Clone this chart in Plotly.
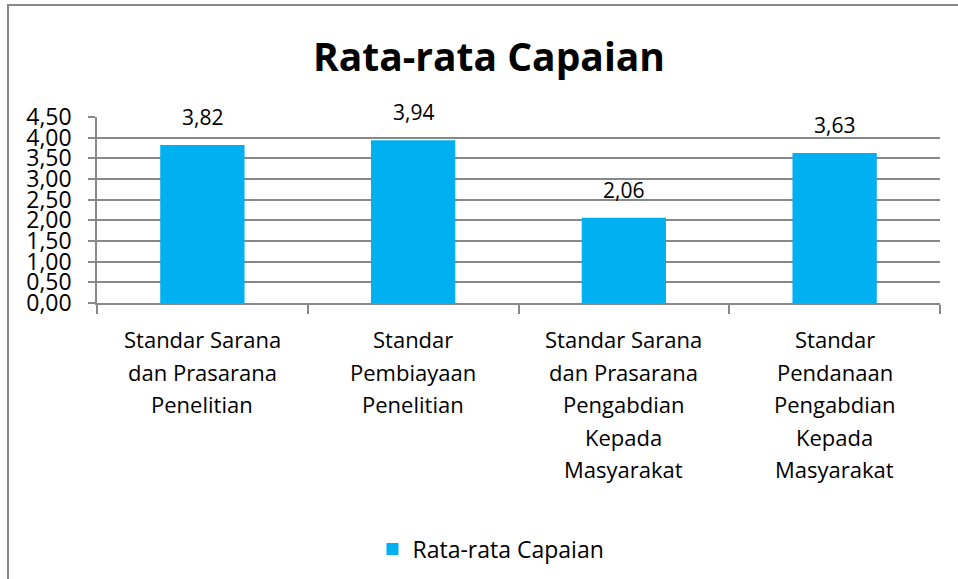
import plotly.graph_objects as go

categories = [
    "Standar Sarana<br>dan Prasarana<br>Penelitian",
    "Standar<br>Pembiayaan<br>Penelitian",
    "Standar Sarana<br>dan Prasarana<br>Pengabdian<br>Kepada<br>Masyarakat",
    "Standar<br>Pendanaan<br>Pengabdian<br>Kepada<br>Masyarakat",
]
values = [3.82, 3.94, 2.06, 3.63]
value_labels = ["3,82", "3,94", "2,06", "3,63"]
tick_vals = [0, 0.5, 1, 1.5, 2, 2.5, 3, 3.5, 4, 4.5]
tick_text = ["0,00", "0,50", "1,00", "1,50", "2,00", "2,50", "3,00", "3,50", "4,00", "4,50"]
series_name = "Rata-rata Capaian"

FONT = "Open Sans"
W, H = 958, 579
L, R, T, B = 97, 940, 117, 303
pw, ph = R - L, B - T

fig = go.Figure()
fig.add_trace(go.Bar(
    x=list(range(len(categories))), y=values, name=series_name,
    marker=dict(color="#00B0F0", line=dict(width=0)),
    showlegend=True,
))

annotations = []
for i, (v, t) in enumerate(zip(values, value_labels)):
    annotations.append(dict(x=i, y=v, text=t, showarrow=False, xref="x", yref="y",
                            yanchor="bottom", yshift=12,
                            font=dict(family=FONT, size=21, color="#000")))
for i, c in enumerate(categories):
    for j, line in enumerate(c.split("<br>")):
        annotations.append(dict(x=i, y=0, text=line, showarrow=False, xref="x", yref="paper",
                                yanchor="middle", yshift=-(36 + j * 32.6),
                                font=dict(family=FONT, size=22, color="#000")))

fig.update_layout(
    width=W, height=H,
    margin=dict(l=L, r=W - R, t=T, b=H - B, autoexpand=False),
    paper_bgcolor="white", plot_bgcolor="white",
    bargap=0.6,
    title=dict(text="<b>Rata-rata Capaian</b>", x=489 / W, xanchor="center",
               y=1 - 57 / H, yanchor="middle",
               font=dict(family=FONT, size=39, color="#000")),
    xaxis=dict(range=[-0.5, 3.5], tickmode="array", tickvals=[-0.5, 0.5, 1.5, 2.5, 3.5],
               ticktext=["", "", "", "", ""], ticks="outside", ticklen=9, tickwidth=1.5,
               tickcolor="#888888", showgrid=False, zeroline=False,
               showline=True, linecolor="#888888", linewidth=1.5),
    yaxis=dict(range=[0, 4.5], tickmode="array", tickvals=tick_vals, ticktext=tick_text,
               ticks="outside", ticklen=7, tickwidth=1.5, tickcolor="#888888",
               ticklabelstandoff=12,
               showgrid=True, gridcolor="#888888", gridwidth=1.5, zeroline=False,
               showline=True, linecolor="#888888", linewidth=1.5,
               tickfont=dict(family=FONT, size=23, color="#000")),
    legend=dict(orientation="h", x=(491 - L) / pw, xanchor="center",
                y=(B - 549) / ph, yanchor="middle",
                font=dict(family=FONT, size=23, color="#000")),
    annotations=annotations,
    shapes=[dict(type="rect", xref="paper", yref="paper",
                 x0=(8 - L) / pw, x1=(970 - L) / pw,
                 y0=(B - 600) / ph, y1=(B - 5) / ph,
                 line=dict(color="#888888", width=2), fillcolor="rgba(0,0,0,0)")],
)

fig.write_html("out.html", config={"displayModeBar": False},
               post_script="document.body.style.margin='0';document.body.style.overflow='hidden';")
